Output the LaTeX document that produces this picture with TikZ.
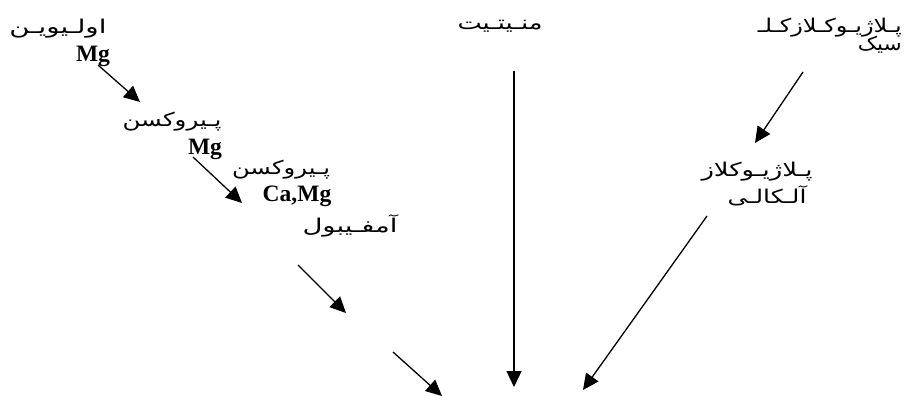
\documentclass[tikz,border=0pt]{standalone}
\usepackage{fontspec}
\usepackage{graphicx}
\setmainfont{Liberation Serif}
\newfontfamily\arabicfont[Script=Arabic]{DejaVu Sans}
\TeXXeTstate=1
\usetikzlibrary{arrows.meta}
\newcommand{\fatext}[2]{\resizebox{#1pt}{\height}{\arabicfont\fontsize{19}{21}\selectfont\beginR #2\endR}}
\begin{document}
\begin{tikzpicture}[x=1pt,y=-1pt,
  fa/.style={inner sep=0pt, anchor=base},
  el/.style={font=\bfseries\fontsize{23.5}{25}\selectfont, inner sep=0pt, anchor=base},
  arr/.style={line width=1.3pt, -{Triangle[length=16pt,width=15pt]}}]
\useasboundingbox (0,0) rectangle (906,396);
% labels
\node[fa] (ol) at (58,34) {\fatext{97}{اولـیویـن}};
\node[el] (mg1) at (93,62) {Mg};
\node[fa] (py1) at (172,126) {\fatext{99}{پـیروکسن}};
\node[el] (mg2) at (205,154) {Mg};
\node[fa] (py2) at (281,174) {\fatext{98}{پـیروکسن}};
\node[el] (camg) at (297,201) {Ca,Mg};
\node[fa] (amph) at (350,233) {\fatext{95}{آمفـیبول}};
\node[fa] (mag) at (500,30) {\fatext{85}{منـیتـیت}};
\node[fa,anchor=base east] (plc1) at (902,33) {\fatext{144}{پـلاژیـوکـلازکـلـ}};
\node[fa,anchor=base east] (plc2) at (902,51) {\fatext{44}{سیک}};
\node[fa] (pla1) at (757,176) {\fatext{111}{پـلاژیـوکلاز}};
\node[fa] (pla2) at (767,204) {\fatext{79}{آلـکالـی}};
% arrow end points
\coordinate (s1) at (98,65);   \coordinate (t1) at (140,102);
\coordinate (s2) at (193,157); \coordinate (t2) at (242,203);
\coordinate (s3) at (298,265); \coordinate (t3) at (346,313);
\coordinate (s4) at (393,352); \coordinate (t4) at (442,396);
\coordinate (s5) at (514,71);  \coordinate (t5) at (514,387);
\coordinate (s6) at (803,72);  \coordinate (t6) at (755,143);
\coordinate (s7) at (707,216); \coordinate (t7) at (583,390);
\draw[arr] (s1) -- (t1);
\draw[arr] (s2) -- (t2);
\draw[arr] (s3) -- (t3);
\draw[arr] (s4) -- (t4);
\draw[arr] (s5) -- (t5);
\draw[arr] (s6) -- (t6);
\draw[arr] (s7) -- (t7);
\end{tikzpicture}
\end{document}
